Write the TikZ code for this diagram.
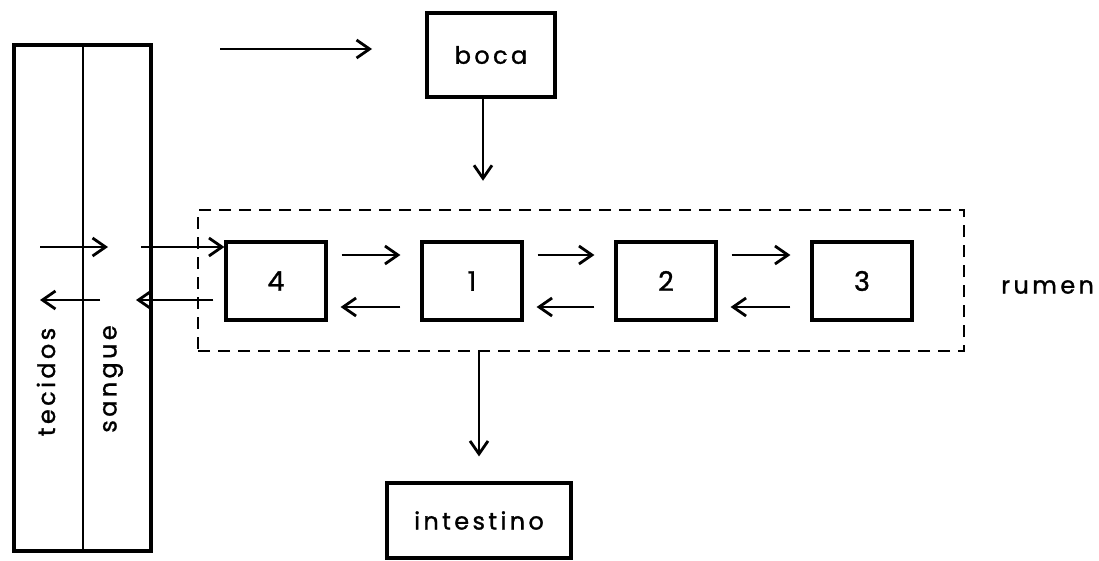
\documentclass[tikz,border=0pt]{standalone}
\usepackage{fontspec}
\newfontfamily\lbl{Poppins}[LetterSpace=14,FakeBold=1.2]
\usetikzlibrary{arrows.meta,calc}
\begin{document}
\begin{tikzpicture}[x=1pt,y=-1pt,
  box/.style={draw,line width=3.2pt,inner sep=0pt,font=\lbl\fontsize{24}{28}\selectfont},
  numbox/.style={box,minimum width=100pt,minimum height=78pt,font=\lbl\fontsize{27}{30}\selectfont},
  arr/.style={line width=2.3pt,-{Straight Barb[length=13pt,width=18pt,line width=2.8pt]}},
  txt/.style={inner sep=0pt,font=\lbl\fontsize{24}{28}\selectfont},
  dashbox/.style={draw,line width=2.5pt,dash pattern=on 12pt off 8pt}]
\useasboundingbox (0,0) rectangle (1099,560);
% left columns
\node[draw,line width=3.2pt,minimum width=137pt,minimum height=506pt,inner sep=0pt] (col) at (82.5,298) {};
\coordinate (dtop) at (83,45);
\coordinate (dbot) at (83,551);
\draw[line width=2.6pt] (dtop) -- (dbot);
\node[txt,rotate=90] (tec) at (46,382) {tecidos};
\node[txt,rotate=90] (san) at (113,379) {sangue};
% boca and intestino
\node[box,minimum width=128pt,minimum height=84pt] (boca) at (491,55) {boca};
\node[box,minimum width=184pt,minimum height=75pt] (int) at (479,520.5) {intestino};
% rumen
\node[dashbox,minimum width=766pt,minimum height=141pt,inner sep=0pt] (rum) at (581,280.5) {};
\node[numbox] (b4) at (276,281) {4};
\node[numbox] (b1) at (472,281) {1};
\node[numbox] (b2) at (666,281) {2};
\node[numbox] (b3) at (862,281) {3};
\node[txt,anchor=west] (rl) at (1001,287) {rumen};
% top arrow
\coordinate (a1) at (220,49);
\coordinate (a2) at (372,49);
\draw[arr] (a1) -- (a2);
% boca -> rumen
\draw[arr,shorten >=28pt] ([xshift=-8pt]boca.south) -- ([xshift=-8pt]boca.south |- rum.north);
% rumen -> intestino
\draw[arr,shorten >=25pt] (int.north |- rum.south) -- (int.north);
% left arrows
\coordinate (t1) at (40,247);
\coordinate (t2) at (108,247);
\coordinate (s1) at (141,247);
\draw[arr] (t1) -- (t2);
\draw[arr] (s1) -- (s1 -| b4.west);
\coordinate (s2) at (136,300);
\coordinate (t3) at (100,300);
\coordinate (t4) at (40,300);
\draw[arr,shorten <=11pt] (s2 -| b4.west) -- (s2);
\draw[arr] (t3) -- (t4);
% between boxes
\foreach \a/\b in {b4/b1,b1/b2,b2/b3}{
  \draw[arr,shorten <=14pt,shorten >=20pt] ([yshift=26pt]\a.east) -- ([yshift=26pt]\a.east -| \b.west);
  \draw[arr,shorten <=20pt,shorten >=13pt] ([yshift=-26pt]\b.west) -- ([yshift=-26pt]\b.west -| \a.east);
}
\end{tikzpicture}
\end{document}
